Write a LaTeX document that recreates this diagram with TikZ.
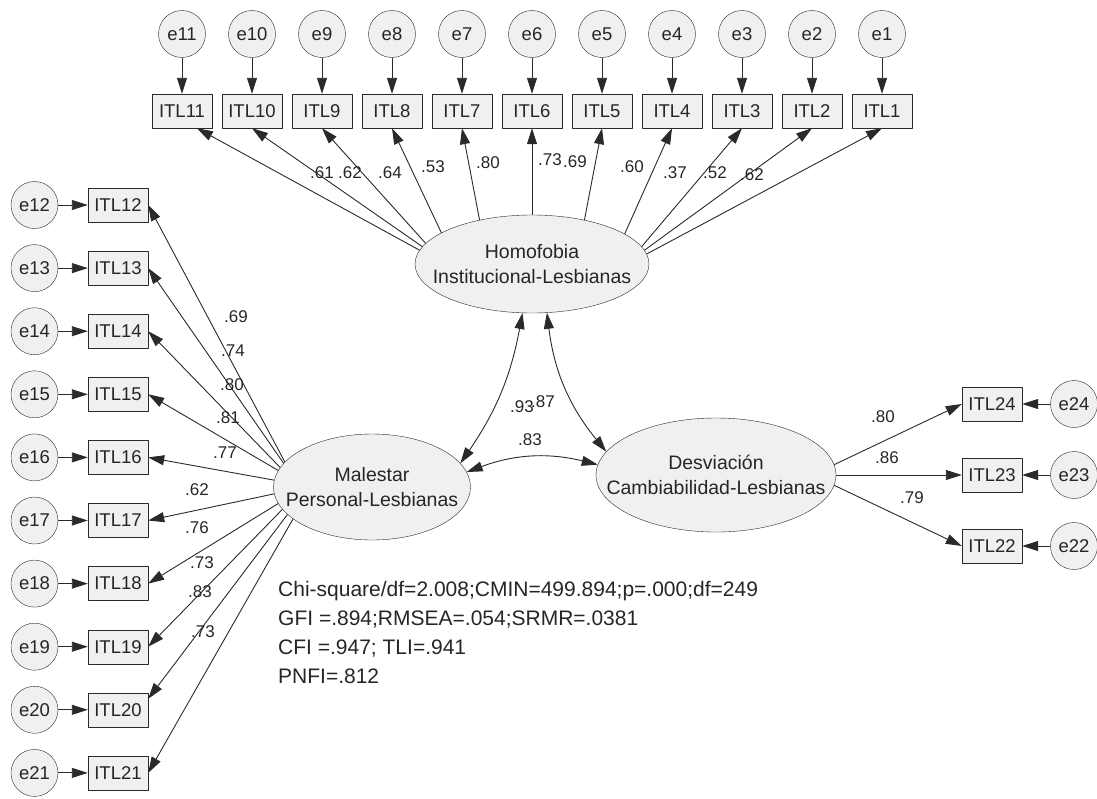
\documentclass[tikz,border=0pt]{standalone}
\usepackage{fontspec}
\setmainfont{Liberation Sans}
\usetikzlibrary{shapes.geometric,arrows.meta}
\definecolor{linec}{HTML}{2A2A2A}
\definecolor{boxfill}{HTML}{F0F0F0}
\definecolor{txtc}{HTML}{262626}
\begin{document}
\begin{tikzpicture}[x=1pt, y=-1pt, line join=round, >={Triangle[length=16pt,width=10pt]}]
	\tikzset{every node/.style={text=txtc},
		obs/.style={draw=linec, fill=boxfill, minimum width=60pt, minimum height=34pt, inner sep=0pt, font=\fontsize{18.5}{18.5}\selectfont},
		err/.style={circle, draw=linec, fill=boxfill, minimum size=47pt, inner sep=0pt, font=\fontsize{18.5}{18.5}\selectfont},
		lat/.style={ellipse, draw=linec, fill=boxfill, inner xsep=-25pt, inner ysep=0pt, align=center, font=\fontsize{19.5}{25}\selectfont},
		coef/.style={inner sep=0pt, font=\fontsize{17}{17}\selectfont},
		load/.style={->, draw=linec, line width=0.9pt}}
	\useasboundingbox (0,0) rectangle (1097,798);
	% latent variables
	\node[lat, minimum width=234pt, minimum height=98pt] (hom) at (532,264) {Homofobia\\Institucional-Lesbianas};
	\node[lat, minimum width=197pt, minimum height=106pt] (mal) at (372,487) {Malestar\\Personal-Lesbianas};
	\node[lat, minimum width=240pt, minimum height=114pt] (des) at (716,475) {Desviación\\Cambiabilidad-Lesbianas};
	% items ITL1 - ITL11
	\foreach \k in {1,...,11}{
		\node[obs] (itl\k) at ({882-70*(\k-1)},111) {ITL\k};
		\node[err] (e\k) at ({882-70*(\k-1)},34) {e\k};
		\draw[load] (e\k) -- (itl\k);
	}
	% items ITL12 - ITL21
	\foreach \k [count=\i from 0] in {12,...,21}{
		\node[obs] (itl\k) at (118,{205+63.1*\i}) {ITL\k};
		\node[err] (e\k) at (34.5,{205+63.1*\i}) {e\k};
		\draw[load] (e\k) -- (itl\k);
	}
	% items ITL22 - ITL24
	\foreach \k/\y in {24/404,23/475,22/546}{
		\node[obs] (itl\k) at (992,\y) {ITL\k};
		\node[err] (e\k) at (1074,\y) {e\k};
		\draw[load] (e\k) -- (itl\k);
	}
	% loadings
	\foreach \k/\a in {1/5.8,2/7.4,3/9,4/18.6,5/40.4,6/90,7/140,8/161.7,9/169.5,10/171.9}
		\draw[load] (hom.\a) -- (itl\k.south);
	\draw[load] (hom.173.6) -- (itl11.-49);
	\foreach \k/\a in {12/164.2,13/165.8,14/168,15/170.7,16/176.5,17/184,18/190.6,19/194.5,21/202.4}
		\draw[load] (mal.\a) -- (itl\k.east);
	\draw[load] (mal.198.6) -- (itl20.20);
	\foreach \k/\a in {24/5.8,23/0,22/-5.3}
		\draw[load] (des.\a) -- (itl\k.west);
	% correlations
	\draw[load, <->] (hom.-101) to[bend left=12] (mal.15);
	\draw[load, <->] (hom.-73) to[bend right=16] (des.168.5);
	\draw[load, <->] (mal.9) to[bend left=17] (des.175);
	% coefficients
	\foreach \t/\x/\y in {.61/322/173,.62/350/173,.64/390/173,.53/433/167,.80/488/163,.73/550/160,.69/575/162,.60/632/167,.37/675/173,.52/715/173,.62/752/175,
		.69/236/317,.74/233/351,.80/232/385,.81/228/418,.77/225/453,.62/197/490,.76/197/528,.73/202/563,.83/200/592,.73/203/632,
		.80/883/417,.86/887/458,.79/912/498,.93/522/407,.87/543/402,.83/530/440}
		\node[coef] at (\x,\y) {\t};
	% fit indices
	\node[anchor=north west, inner sep=0pt, align=left, font=\fontsize{21}{29}\selectfont] (fit) at (278,581)
		{Chi-square/df=2.008;CMIN=499.894;p=.000;df=249\\GFI =.894;RMSEA=.054;SRMR=.0381\\CFI =.947; TLI=.941\\PNFI=.812};
\end{tikzpicture}
\end{document}
